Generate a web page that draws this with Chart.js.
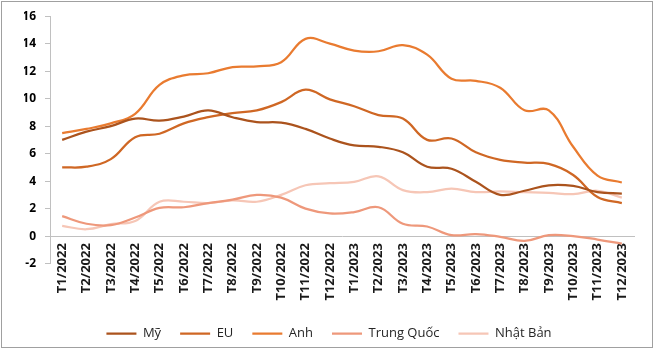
<!DOCTYPE html>
<html lang="vi">
<head>
<meta charset="utf-8">
<script src="https://cdn.jsdelivr.net/npm/chart.js@4.4.1/dist/chart.umd.min.js"></script>
<style>
  html, body { margin: 0; padding: 0; background: #fff; }
  #wrap { position: relative; width: 655px; height: 352px; }
  #chart { display: block; }
  #frame { position: absolute; left: 1px; top: 1px; width: 650px; height: 345px; border: 1px solid #a0a0a0; pointer-events: none; }
</style>
</head>
<body>
<div id="wrap">
  <canvas id="chart" width="655" height="352"></canvas>
  <div id="frame"></div>
</div>
<script>
/* -------------------------------------------------------------------------- */
/*                                   Dữ liệu                                  */
/* -------------------------------------------------------------------------- */
const thang = [
  "T1/2022", "T2/2022", "T3/2022", "T4/2022", "T5/2022", "T6/2022",
  "T7/2022", "T8/2022", "T9/2022", "T10/2022", "T11/2022", "T12/2022",
  "T1/2023", "T2/2023", "T3/2023", "T4/2023", "T5/2023", "T6/2023",
  "T7/2023", "T8/2023", "T9/2023", "T10/2023", "T11/2023", "T12/2023",
];

const my = [7.0, 7.6, 8.0, 8.55, 8.4, 8.7, 9.15, 8.65, 8.3, 8.25, 7.8, 7.1,
  6.6, 6.5, 6.1, 5.05, 4.9, 3.95, 3.0, 3.3, 3.7, 3.65, 3.2, 3.1];
const eu = [5.0, 5.05, 5.6, 7.2, 7.45, 8.2, 8.65, 8.95, 9.15, 9.75, 10.65, 9.95,
  9.45, 8.8, 8.55, 7.0, 7.1, 6.1, 5.55, 5.35, 5.25, 4.45, 2.85, 2.4];
const anh = [7.5, 7.8, 8.2, 8.9, 11.0, 11.7, 11.85, 12.3, 12.35, 12.65, 14.35, 14.0,
  13.5, 13.45, 13.9, 13.2, 11.45, 11.3, 10.8, 9.15, 9.15, 6.5, 4.4, 3.9];
const trungQuoc = [1.45, 0.9, 0.8, 1.35, 2.05, 2.1, 2.4, 2.65, 3.0, 2.8, 2.0, 1.65,
  1.75, 2.1, 0.9, 0.7, 0.07, 0.15, -0.05, -0.35, 0.07, 0.0, -0.25, -0.55];
const nhatBan = [0.75, 0.5, 0.87, 1.1, 2.5, 2.5, 2.4, 2.6, 2.5, 3.0, 3.7, 3.85,
  3.95, 4.35, 3.35, 3.2, 3.45, 3.2, 3.25, 3.2, 3.15, 3.05, 3.3, 2.8];

const yMin = -2;
const yMax = 16;
const yStep = 2;

/* -------------------------------------------------------------------------- */
/*                                   Biểu đồ                                  */
/* -------------------------------------------------------------------------- */
const font = "'Open Sans', 'DejaVu Sans', sans-serif";
const axisGray = "#c0c0c0";

const line = (label, data, color) => ({
  label,
  data,
  borderColor: color,
  backgroundColor: color,
  borderWidth: 2.25,
  pointRadius: 0,
  tension: 0.4,
  fill: false,
});

new Chart(document.querySelector("#chart"), {
  type: "line",
  data: {
    labels: thang,
    datasets: [
      line("Mỹ", my, "#ab531d"),
      line("EU", eu, "#cf6724"),
      line("Anh", anh, "#e97b30"),
      line("Trung Quốc", trungQuoc, "#ee987b"),
      line("Nhật Bản", nhatBan, "#f6c6b6"),
    ],
  },
  options: {
    responsive: false,
    animation: false,
    layout: { padding: { left: 24, right: 21, top: 16, bottom: 2 } },
    scales: {
      x: {
        // trục hoành đặt tại giá trị 0 như bản gốc
        position: { y: 0 },
        offset: true,
        grid: { display: false, drawTicks: false },
        border: { display: true, color: axisGray, width: 1 },
        ticks: {
          autoSkip: false,
          minRotation: 90,
          maxRotation: 90,
          padding: 7,
          color: "#1a1a1a",
          font: { family: font, size: 13, weight: "bold" },
        },
      },
      y: {
        min: yMin,
        max: yMax,
        afterFit: (s) => { s.width = 26; },
        grid: { drawOnChartArea: false, tickLength: 5, color: axisGray },
        border: { color: axisGray },
        ticks: {
          stepSize: yStep,
          padding: 9,
          color: "#000",
          font: { family: font, size: 12, weight: "bold" },
        },
      },
    },
    plugins: {
      legend: {
        position: "bottom",
        // tiêu đề trống chỉ để chừa chỗ cho nhãn trục hoành
        title: { display: true, text: " ", font: { size: 12 }, padding: { top: 30, bottom: 0 } },
        labels: {
          usePointStyle: true,
          pointStyle: "line",
          pointStyleWidth: 30,
          padding: 19,
          color: "#262626",
          font: { family: font, size: 13 },
        },
      },
      tooltip: { enabled: false },
    },
  },
});
</script>
</body>
</html>
